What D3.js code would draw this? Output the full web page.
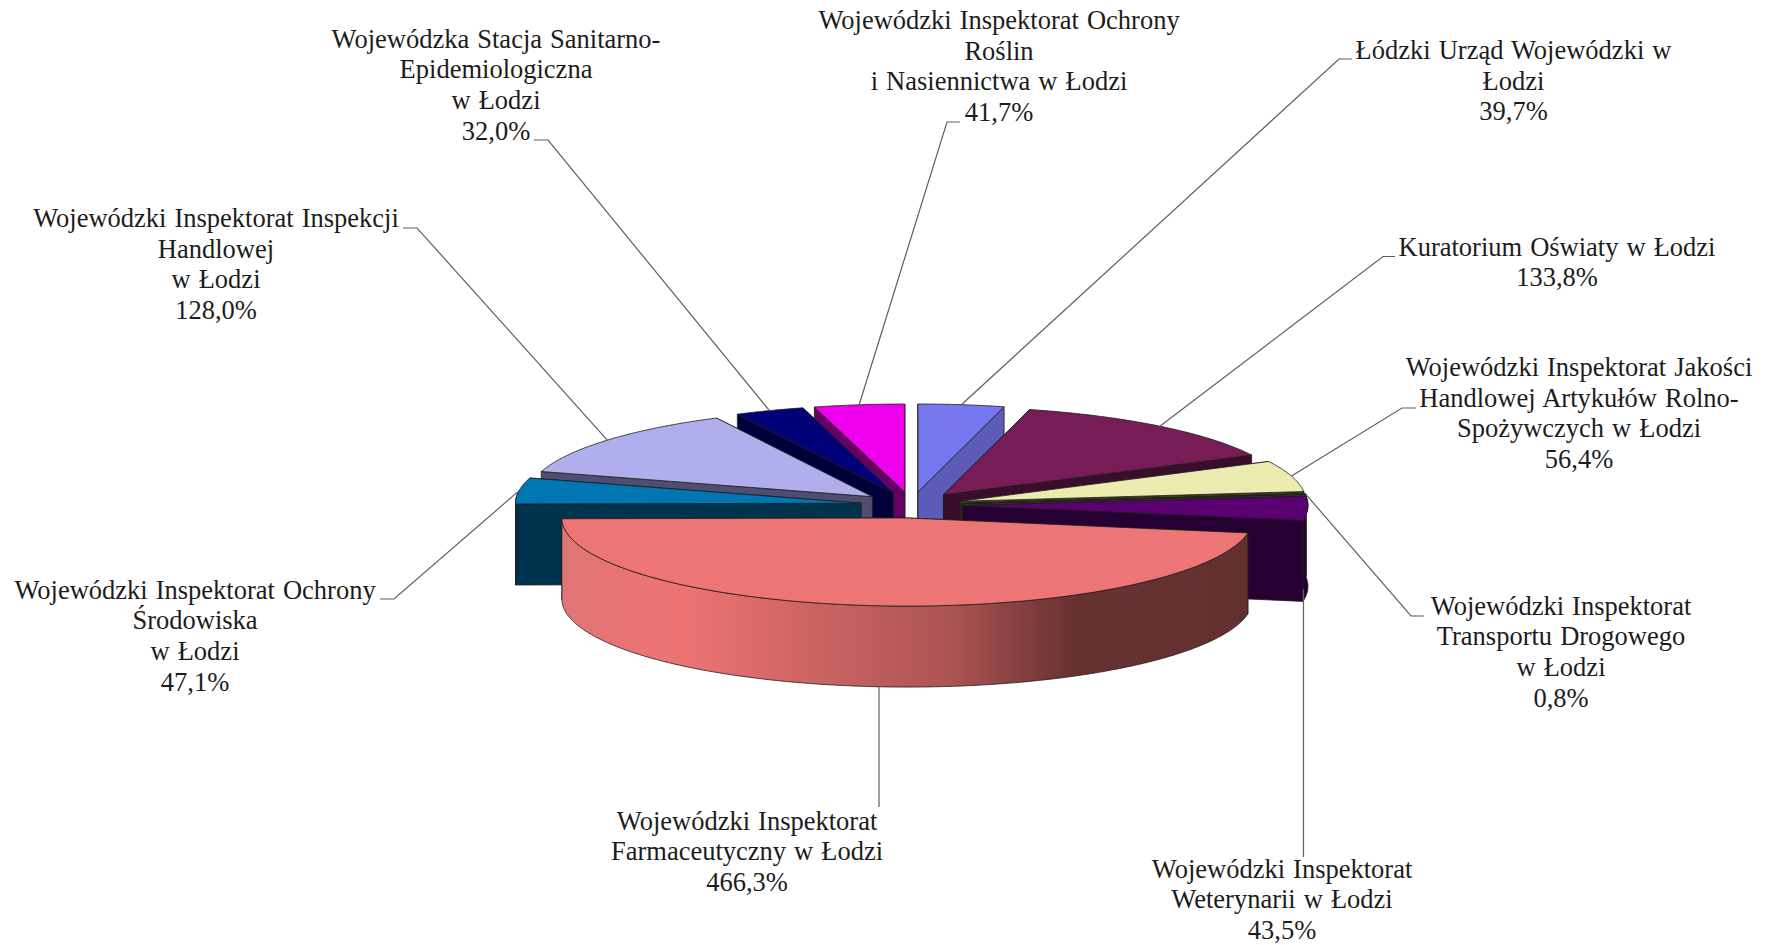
<!DOCTYPE html>
<html lang="pl">
<head>
<meta charset="utf-8">
<title>Wykres kołowy</title>
<script src="https://cdn.jsdelivr.net/npm/d3@7/dist/d3.min.js"></script>
<style>
html,body{margin:0;padding:0;background:#fff;overflow:hidden}
svg{display:block}
text{font-family:"Liberation Serif","Times New Roman",serif;font-size:26.5px;fill:#1c1c1c;word-spacing:1.4px}
</style>
</head>
<body>
<div id="chart"></div>
<script>
// Data, clockwise from 12 o'clock
const categories = [
  "Łódzki Urząd Wojewódzki w|Łodzi",
  "Kuratorium Oświaty w Łodzi",
  "Wojewódzki Inspektorat Jakości|Handlowej Artykułów Rolno-|Spożywczych  w Łodzi",
  "Wojewódzki Inspektorat|Transportu Drogowego|w Łodzi",
  "Wojewódzki Inspektorat|Weterynarii  w Łodzi",
  "Wojewódzki Inspektorat|Farmaceutyczny  w Łodzi",
  "Wojewódzki Inspektorat Ochrony|Środowiska|w Łodzi",
  "Wojewódzki Inspektorat Inspekcji|Handlowej|w Łodzi",
  "Wojewódzka Stacja Sanitarno-|Epidemiologiczna|w Łodzi",
  "Wojewódzki Inspektorat Ochrony|Roślin|i Nasiennictwa w Łodzi"
];
const values = [39.7, 133.8, 56.4, 0.8, 43.5, 466.3, 47.1, 128.0, 32.0, 41.7];
const topColors = ["#7777ee","#771c56","#ecebb0","#5f5f30","#5a0070","#ee7575","#0077b3","#b0aeec","#000078","#ee00ee"];
const wallColors = ["#5c5cb8","#3a0e2b","#3d3d22","#3d3d22","#270033","#663232","#00334d","#4f4e72","#00003c","#660066"];

// Layout of the labels: centre x, first baseline, leader elbow, leader end
const labelCx = [1513.5,1557,1579,1561,1282,747,195,216,496,999];
const labelY  = [59,255.5,376,614.5,877.7,829.5,598.5,227,47.5,29];
const elbows  = [[1339,59],[1383,256.5],[1402,408],[1411,616],[1303.5,857],[879,807],[394,599],[417,228],[548,140],[947,122]];
const ends    = [[1352,59],[1395,256.5],[1416,408],[1424,616],null,null,[380,599],[403,228],[534,140],[960,122]];

const W = 1768, H = 945;
const CX = 911.5, CY = 505, R = 345.5, TILT = 0.255, EXPLODE = 51, DEPTH = 81, LINE = 30.7;
const fmt = v => v.toFixed(1).replace(".", ",") + "%";

const svg = d3.select("#chart").append("svg").attr("width", W).attr("height", H).attr("viewBox", `0 0 ${W} ${H}`);

const grad = svg.append("defs").append("linearGradient").attr("id", "farmGrad");
[[0,"#df7676"],[0.086,"#e97474"],[0.175,"#ed7373"],[0.57,"#ab5353"],[0.75,"#673131"],[1,"#633030"]]
  .forEach(([o,c]) => grad.append("stop").attr("offset", o).attr("stop-color", c));

const arcs = d3.pie().sort(null).value(d => d)(values).map((a, i) => {
  const mid = (a.startAngle + a.endAngle) / 2;
  return {
    i, a0: a.startAngle, a1: a.endAngle, mid,
    ox: CX + EXPLODE * Math.sin(mid),
    oy: CY - EXPLODE * TILT * Math.cos(mid)
  };
});
const onRim = (s, t, dz = 0) => [s.ox + R * Math.sin(t), s.oy - R * TILT * Math.cos(t) + dz];
const rim = (s, from, to, dz = 0) => {
  const n = Math.max(2, Math.ceil(Math.abs(to - from) / 0.01));
  return d3.range(n + 1).map(k => onRim(s, from + (to - from) * k / n, dz));
};
const line = d3.line();
const closed = pts => line(pts) + "Z";

const pie = svg.append("g").attr("stroke", "#1d1d1d").attr("stroke-width", 0.8).attr("stroke-linejoin", "round");
[...arcs].sort((p, q) => Math.cos(q.mid) - Math.cos(p.mid)).forEach(s => {
  const g = pie.append("g");
  const wall = wallColors[s.i];
  const apex = [s.ox, s.oy], apexLow = [s.ox, s.oy + DEPTH];
  const radial = t => closed([apex, onRim(s, t), onRim(s, t, DEPTH), apexLow]);
  // radial faces, back-facing one first
  const faces = [s.a0, s.a1].sort((p, q) => Math.cos(q) - Math.cos(p));
  faces.forEach(t => g.append("path").attr("d", radial(t)).attr("fill", wall));
  // outer face
  const lo = Math.max(s.a0, Math.PI / 2 - 0.12), hi = Math.min(s.a1, 3 * Math.PI / 2 + 0.12);
  if (hi > lo) {
    const front = rim(s, lo, hi).concat(rim(s, hi, lo, DEPTH));
    g.append("path").attr("d", closed(front))
      .attr("fill", s.i === 5 ? "url(#farmGrad)" : wall);
  }
  // top
  g.append("path").attr("d", closed([apex, ...rim(s, s.a0, s.a1)])).attr("fill", topColors[s.i]);
});

// leaders
svg.append("g").attr("fill", "none").attr("stroke", "#5f5f5f").attr("stroke-width", 1.2)
  .selectAll("path").data(arcs).join("path")
  .attr("d", s => {
    const rimPt = onRim(s, s.mid, Math.cos(s.mid) < 0 ? DEPTH : 0);
    const start = ends[s.i] ? rimPt : [elbows[s.i][0], rimPt[1]];
    const pts = [start, elbows[s.i]];
    if (ends[s.i]) pts.push(ends[s.i]);
    return line(pts);
  });

// labels
const labels = svg.append("g").attr("text-anchor", "middle").selectAll("text").data(arcs).join("text")
  .attr("transform", s => `translate(${labelCx[s.i]},${labelY[s.i]})`);
labels.each(function (s) {
  const rows = categories[s.i].split("|").concat(fmt(values[s.i]));
  d3.select(this).selectAll("tspan").data(rows).join("tspan")
    .attr("x", 0).attr("y", (d, k) => k * LINE).text(d => d);
});
</script>
</body>
</html>
